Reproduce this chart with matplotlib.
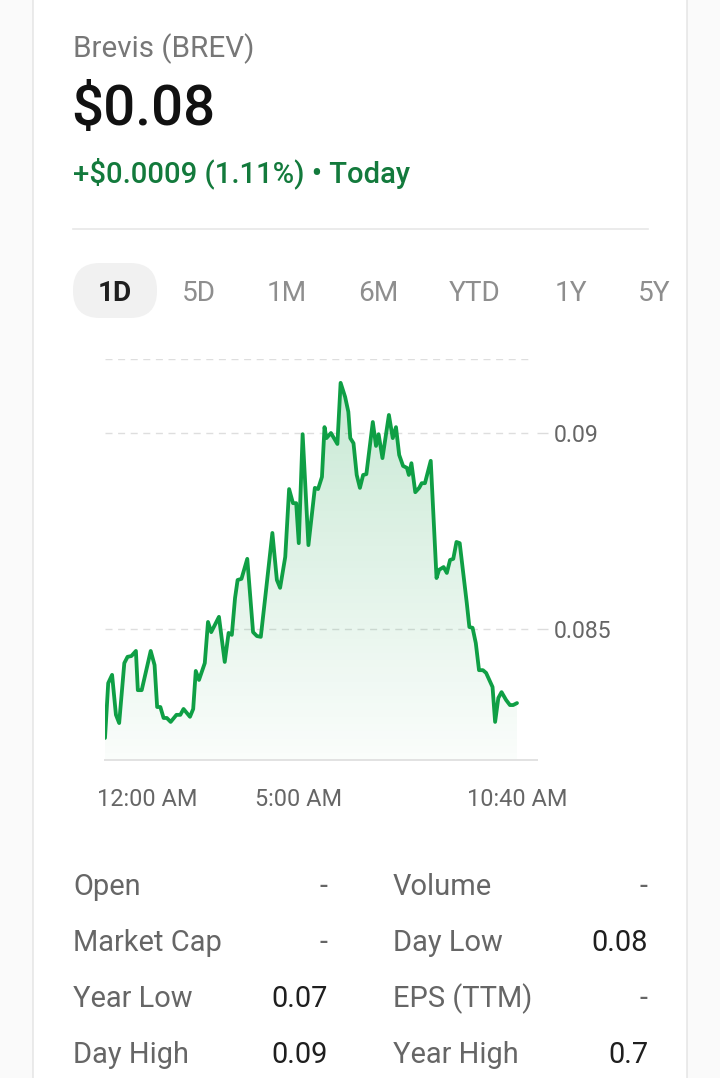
import numpy as np
import matplotlib
matplotlib.use("Agg")
import matplotlib.pyplot as plt
from matplotlib.patches import FancyBboxPatch, Polygon
from matplotlib.transforms import ScaledTranslation

# ---------------- data ----------------
minutes = [0, 5, 11, 17, 22, 30, 35, 41, 48, 51,
           57, 71, 77, 81, 86, 91, 96, 102, 111, 117,
           122, 132, 137, 141, 146, 155, 160, 165, 177, 186,
           192, 197, 202, 206, 212, 221, 230, 236, 242, 249,
           260, 267, 272, 280, 286, 292, 297, 301, 307, 316,
           326, 331, 337, 341, 344, 351, 361, 366, 373, 378,
           381, 386, 391, 396, 401, 406, 416, 421, 425, 431,
           441, 447, 452, 457, 463, 469, 472, 476, 482, 488,
           492, 497, 506, 515, 519, 526, 531, 536, 541, 546,
           551, 562, 566, 571, 576, 581, 587, 592, 597, 602,
           606, 611, 616, 623, 629, 634, 640]
prices = [0.08222, 0.08362, 0.08383, 0.08281, 0.08260, 0.08413, 0.08429, 0.08431, 0.08444, 0.08344,
          0.08344, 0.08444, 0.08408, 0.08301, 0.08301, 0.08273, 0.08273, 0.08263, 0.08281, 0.08281,
          0.08296, 0.08276, 0.08296, 0.08393, 0.08370, 0.08413, 0.08518, 0.08492, 0.08531, 0.08416,
          0.08490, 0.08485, 0.08579, 0.08625, 0.08628, 0.08679, 0.08492, 0.08482, 0.08480, 0.08582,
          0.08745, 0.08625, 0.08605, 0.08684, 0.08857, 0.08821, 0.08821, 0.08719, 0.08997, 0.08714,
          0.08860, 0.08857, 0.08888, 0.09015, 0.08987, 0.09000, 0.08972, 0.09128, 0.09092, 0.09054,
          0.08987, 0.08974, 0.08893, 0.08860, 0.08893, 0.08895, 0.09028, 0.08967, 0.08997, 0.08936,
          0.09046, 0.08987, 0.09015, 0.08944, 0.08916, 0.08911, 0.08893, 0.08923, 0.08849, 0.08860,
          0.08872, 0.08872, 0.08929, 0.08630, 0.08651, 0.08658, 0.08643, 0.08676, 0.08679, 0.08722,
          0.08719, 0.08566, 0.08505, 0.08503, 0.08464, 0.08395, 0.08395, 0.08388, 0.08370, 0.08352,
          0.08263, 0.08324, 0.08339, 0.08319, 0.08306, 0.08306, 0.08311]

x_tick_vals = [0, 300, 640]
x_tick_labels = ["12:00 AM", "5:00 AM", "10:40 AM"]
y_tick_vals = [0.085, 0.09]
y_tick_labels = ["0.085", "0.09"]
y_range = (0.081658, 0.091888)

title = "Brevis (BREV)"
price_text = "$0.08"
change_text = "+$0.0009 (1.11%) \u2022 Today"
tabs = ["1D", "5D", "1M", "6M", "YTD", "1Y", "5Y"]

left_labels = ["Open", "Market Cap", "Year Low", "Day High"]
left_values = ["-", "-", "0.07", "0.09"]
right_labels = ["Volume", "Day Low", "EPS (TTM)", "Year High"]
right_values = ["-", "0.08", "-", "0.7"]

# ---------------- layout ----------------
W, H, DPI = 720, 1078, 100
FONT = "Roboto"
GREEN_LINE = "#0f9f45"
GREEN_TEXT = "#137a3c"
GRAY_TEXT = "#666666"
DARK = "#1f1f1f"


def pt(px):
    return px * 72.0 / DPI


fig = plt.figure(figsize=(W / DPI, H / DPI), dpi=DPI)
fig.patch.set_facecolor("#fafafa")
bg = fig.add_axes([0, 0, 1, 1])
bg.set_xlim(0, W)
bg.set_ylim(H, 0)
bg.axis("off")

card = FancyBboxPatch((33, -40), 654, 1200, boxstyle="round,pad=0,rounding_size=24",
                      fc="white", ec="#e3e3e3", lw=1.0)
bg.add_patch(card)

# header
bg.text(73, 57, title, fontsize=pt(29.6), color="#777777", family=FONT,
        ha="left", va="baseline")
bg.text(71, 125, price_text, fontsize=pt(56.5), color="#111111", family=FONT,
        weight="medium", ha="left", va="baseline")
bg.text(73, 182, change_text, fontsize=pt(29.3), color=GREEN_TEXT, family=FONT,
        weight="medium", ha="left", va="baseline")
bg.plot([73, 648], [229, 229], color="#e8e8e8", lw=1.2)

# tabs
tab_centers = [115, 199, 287, 378, 475, 571, 654]
pill = FancyBboxPatch((73, 263), 84, 55, boxstyle="round,pad=0,rounding_size=27",
                      fc="#f1f1f1", ec="none")
bg.add_patch(pill)
for i, (lab, cx) in enumerate(zip(tabs, tab_centers)):
    bg.text(cx, 301, lab, fontsize=pt(28), family=FONT,
            color=DARK if i == 0 else "#8e8e8e",
            weight="bold" if i == 0 else "normal",
            ha="center", va="baseline")

# stats table
row_base = [895, 951, 1007, 1063]
for i in range(4):
    yb = row_base[i]
    bg.text(73, yb, left_labels[i], fontsize=pt(29), family=FONT, color=GRAY_TEXT,
            ha="left", va="baseline")
    bg.text(328, yb, left_values[i], fontsize=pt(29), family=FONT,
            color=GRAY_TEXT if left_values[i] == "-" else DARK, ha="right", va="baseline")
    bg.text(393, yb, right_labels[i], fontsize=pt(29), family=FONT, color=GRAY_TEXT,
            ha="left", va="baseline")
    bg.text(648, yb, right_values[i], fontsize=pt(29), family=FONT,
            color=GRAY_TEXT if right_values[i] == "-" else DARK, ha="right", va="baseline")

# ---------------- chart ----------------
ax = fig.add_axes([105 / W, (H - 760) / H, 432 / W, (760 - 359) / H])
ax.set_facecolor("none")
x = np.array(minutes, dtype=float)
y = np.array(prices, dtype=float)
ymin, ymax = y_range
x_right = x[-1] + (537 - 517) * 640 / 412

grad = np.zeros((256, 1, 4))
grad[..., 0] = 0.06
grad[..., 1] = 0.62
grad[..., 2] = 0.27
grad[..., 3] = np.linspace(0.24, 0.02, 256)[:, None]
im = ax.imshow(grad, extent=[x[0], x[-1], ymin, ymax], origin="upper",
               aspect="auto", zorder=1, interpolation="bilinear")
verts = np.column_stack([np.r_[x[0], x, x[-1]], np.r_[ymin, y, ymin]])
poly = Polygon(verts, closed=True, fc="none", ec="none")
ax.add_patch(poly)
im.set_clip_path(poly)

ax.plot(x, y, color=GREEN_LINE, lw=pt(3.8), solid_joinstyle="round",
        solid_capstyle="round", zorder=3)

ax.set_xlim(0, x_right)
ax.set_ylim(ymin, ymax)

for v in y_tick_vals + [ymax]:
    ax.axhline(v, xmin=0, xmax=(533 - 105) / 432, color="#dedede", lw=pt(1.4),
               ls=(0, (5, 4)), zorder=0.5)

for s in ["top", "left", "right"]:
    ax.spines[s].set_visible(False)
ax.spines["bottom"].set_color("#e2e2e2")
ax.spines["bottom"].set_linewidth(pt(2))

ax.yaxis.tick_right()
ax.set_yticks(y_tick_vals)
ax.set_yticklabels(y_tick_labels, family=FONT, fontsize=pt(23), color=GRAY_TEXT)
ax.tick_params(axis="y", length=pt(11), width=pt(1.4), color="#dcdcdc", pad=pt(6))

ax.set_xticks(x_tick_vals)
ax.set_xticklabels(x_tick_labels, family=FONT, fontsize=pt(23.5), color=GRAY_TEXT)
ax.tick_params(axis="x", length=0, pad=pt(28))
xl = ax.get_xticklabels()
xl[0].set_ha("left")
xl[0].set_transform(xl[0].get_transform() + ScaledTranslation(-8 / DPI, 0, fig.dpi_scale_trans))

fig.savefig("out.png", dpi=DPI, facecolor=fig.get_facecolor())
